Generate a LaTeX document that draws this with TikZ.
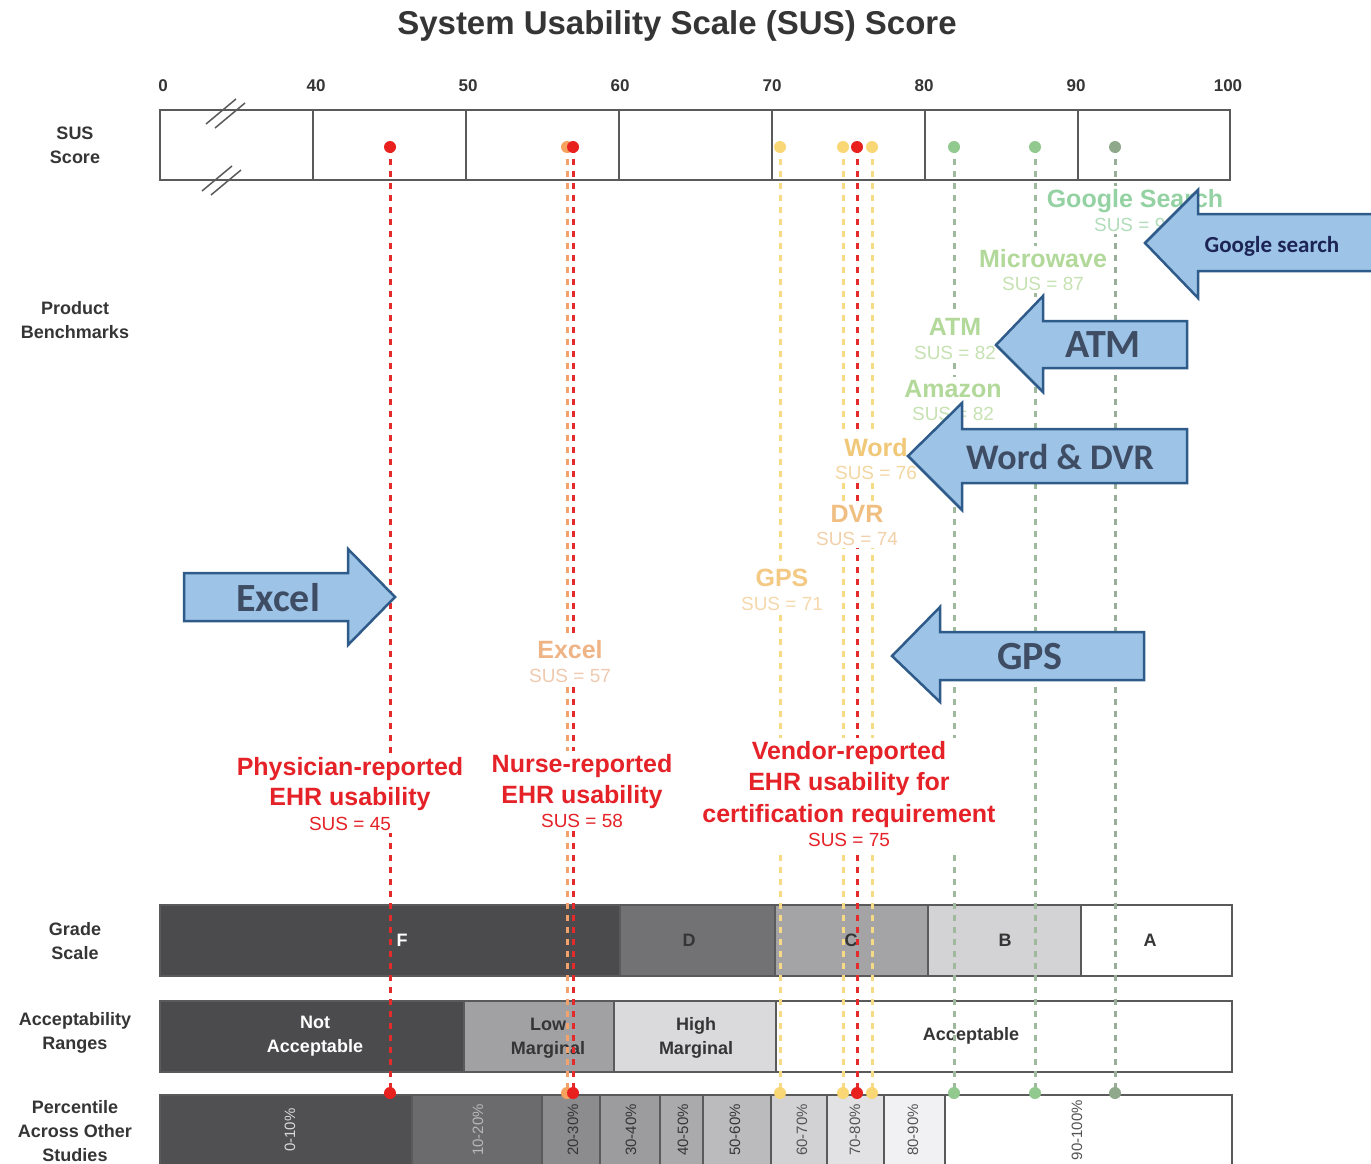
\documentclass[tikz,border=0pt]{standalone}
\usepackage{fontspec}
\setmainfont{Liberation Sans}
\newfontfamily\arrowfont{Carlito}
\usetikzlibrary{fit}
\pgfdeclarelayer{bars}
\pgfdeclarelayer{lines}
\pgfdeclarelayer{mask}
\pgfsetlayers{bars,lines,mask,main}
\definecolor{txtdark}{HTML}{353535}
\definecolor{outl}{HTML}{5A5A5A}
\definecolor{barF}{HTML}{4B4B4D}
\definecolor{barD}{HTML}{727274}
\definecolor{barC}{HTML}{A4A4A6}
\definecolor{barB}{HTML}{D3D3D5}
\definecolor{accLow}{HTML}{A1A1A3}
\definecolor{accHigh}{HTML}{DADADC}
\definecolor{pA}{HTML}{505052}
\definecolor{pB}{HTML}{6B6B6D}
\definecolor{pC}{HTML}{8C8C8E}
\definecolor{pD}{HTML}{9C9C9E}
\definecolor{pE}{HTML}{AAAAAC}
\definecolor{pF}{HTML}{BBBBBD}
\definecolor{pG}{HTML}{D2D2D4}
\definecolor{pH}{HTML}{E2E2E4}
\definecolor{pI}{HTML}{F1F1F3}
\definecolor{redD}{HTML}{E8201E}
\definecolor{redL}{HTML}{E42A2A}
\definecolor{redT}{HTML}{E52228}
\definecolor{excelD}{HTML}{F4A25E}
\definecolor{excelL}{HTML}{F2A36C}
\definecolor{yelD}{HTML}{F8D774}
\definecolor{yelL}{HTML}{F7DA85}
\definecolor{grnD}{HTML}{92C98E}
\definecolor{grnL}{HTML}{9FB99D}
\definecolor{ggD}{HTML}{8FA88B}
\definecolor{ggL}{HTML}{98AE98}
\definecolor{gsT}{HTML}{94D2A4}
\definecolor{gsS}{HTML}{B2DDBB}
\definecolor{mwT}{HTML}{B2D99A}
\definecolor{mwS}{HTML}{C6E2B2}
\definecolor{wdT}{HTML}{F0C878}
\definecolor{wdS}{HTML}{F3D7A2}
\definecolor{dvT}{HTML}{EFBE80}
\definecolor{dvS}{HTML}{F2D1AA}
\definecolor{gpT}{HTML}{F3C984}
\definecolor{gpS}{HTML}{F5D9AC}
\definecolor{exT}{HTML}{EFB486}
\definecolor{exS}{HTML}{F0CAB0}
\definecolor{arrowFill}{HTML}{9DC3E6}
\definecolor{arrowLine}{HTML}{2E5B8A}
\definecolor{arrowTxt}{HTML}{3E4C64}
\definecolor{googleTxt}{HTML}{1C2456}
\begin{document}
\begin{tikzpicture}[x=1pt,y=-1pt,
  every node/.style={inner sep=0pt},
  sidelbl/.style={font=\fontsize{18}{24}\selectfont\bfseries, text=txtdark, align=center},
  scalenum/.style={font=\fontsize{17}{20}\selectfont\bfseries, text=txtdark},
  seg/.style={draw=outl, line width=1.2pt, inner sep=0pt},
  barlbl/.style={font=\fontsize{18}{24}\selectfont\bfseries, align=center, text=txtdark},
  pct/.style={rotate=90, font=\fontsize{15}{18}\selectfont, text=#1},
  dotst/.style={circle, fill=#1, minimum size=12pt, inner sep=0pt},
  susline/.style={draw=#1, line width=3pt, dash pattern=on 6pt off 6pt},
  bname/.style={font=\fontsize{25}{30}\selectfont\bfseries, anchor=base, text=#1},
  bsus/.style={font=\fontsize{19}{23}\selectfont, anchor=base, text=#1},
  rname/.style={font=\fontsize{25}{30}\selectfont\bfseries, anchor=base, text=redT},
  rsus/.style={font=\fontsize{19}{23}\selectfont, anchor=base, text=redT},
  maskbox/.style={fill=white, inner sep=3pt},
  bigarrow/.style={fill=arrowFill, draw=arrowLine, line width=2.5pt, line join=miter},
  arrowlbl/.style={font=\arrowfont\fontsize{40}{44}\selectfont\bfseries, text=arrowTxt}
]
\useasboundingbox (0,0) rectangle (1371,1164);

% ---------- title and axis ----------
\node[font=\fontsize{33}{38}\selectfont\bfseries, text=txtdark, anchor=base] (title) at (677,35) {System Usability Scale (SUS) Score};
\foreach \v/\x in {0/163,40/316,50/468,60/620,70/772,80/924,90/1076,100/1228}
  \node[scalenum] (num\v) at (\x,86) {\v};

% ---------- left labels ----------
\node[sidelbl] (lsus) at (75,145) {SUS\\Score};
\node[sidelbl] (lprod) at (75,320) {Product\\Benchmarks};
\node[sidelbl] (lgrade) at (75,941) {Grade\\Scale};
\node[sidelbl] (lacc) at (75,1033) {Acceptability\\Ranges};
\node[sidelbl] (lpct) at (75,1131) {Percentile\\Across Other\\Studies};

\begin{pgfonlayer}{bars}
% scale box
\node[seg, draw=outl, line width=1.6pt, fit={(160,110) (1230,180)}] (susbox) {};
\foreach \x in {313,466,619,772,925,1078}
  \draw[outl, line width=1.3pt] (\x,110) -- (\x,180);
\draw[outl, line width=1.5pt] (206,124) -- (236,99);
\draw[outl, line width=1.5pt] (215,128) -- (245,103);
\draw[outl, line width=1.5pt] (202,191) -- (232,166);
\draw[outl, line width=1.5pt] (211,195) -- (241,170);

% grade scale
\node[seg, fill=barF, fit={(160,905) (620,976)}] (gF) {};
\node[seg, fill=barD, fit={(620,905) (775,976)}] (gD) {};
\node[seg, fill=barC, fit={(775,905) (928,976)}] (gC) {};
\node[seg, fill=barB, fit={(928,905) (1081,976)}] (gB) {};
\node[seg, fill=white, fit={(1081,905) (1232,976)}] (gA) {};
\node[barlbl, text=white] (tF) at (402,940) {F};
\node[barlbl] (tD) at (689,940) {D};
\node[barlbl] (tC) at (851,940) {C};
\node[barlbl] (tB) at (1005,940) {B};
\node[barlbl] (tA) at (1150,940) {A};

% acceptability ranges
\node[seg, fill=barF, fit={(160,1001) (464,1072)}] (aNot) {};
\node[seg, fill=accLow, fit={(464,1001) (614,1072)}] (aLow) {};
\node[seg, fill=accHigh, fit={(614,1001) (776,1072)}] (aHigh) {};
\node[seg, fill=white, fit={(776,1001) (1232,1072)}] (aAcc) {};
\node[barlbl, text=white] (tNot) at (315,1036) {Not\\Acceptable};
\node[barlbl] (tLow) at (548,1038) {Low\\Marginal};
\node[barlbl] (tHigh) at (696,1038) {High\\Marginal};
\node[barlbl] (tAcc) at (971,1036) {Acceptable};

% percentiles
\node[seg, fill=pA, fit={(160,1095) (412,1180)}] (p0) {};
\node[seg, fill=pB, fit={(412,1095) (542,1180)}] (p1) {};
\node[seg, fill=pC, fit={(542,1095) (600,1180)}] (p2) {};
\node[seg, fill=pD, fit={(600,1095) (660,1180)}] (p3) {};
\node[seg, fill=pE, fit={(660,1095) (703,1180)}] (p4) {};
\node[seg, fill=pF, fit={(703,1095) (771,1180)}] (p5) {};
\node[seg, fill=pG, fit={(771,1095) (827,1180)}] (p6) {};
\node[seg, fill=pH, fit={(827,1095) (884,1180)}] (p7) {};
\node[seg, fill=pI, fit={(884,1095) (945,1180)}] (p8) {};
\node[seg, fill=white, fit={(945,1095) (1232,1180)}] (p9) {};
\node[pct=white!85!black] (tp0) at (290,1130) {0-10\%};
\node[pct=white!72!black] (tp1) at (478,1130) {10-20\%};
\node[pct=txtdark] (tp2) at (573,1130) {20-30\%};
\node[pct=txtdark] (tp3) at (631,1130) {30-40\%};
\node[pct=txtdark] (tp4) at (683,1130) {40-50\%};
\node[pct=txtdark] (tp5) at (735,1130) {50-60\%};
\node[pct=txtdark!85] (tp6) at (802,1130) {60-70\%};
\node[pct=txtdark!85] (tp7) at (855,1130) {70-80\%};
\node[pct=txtdark!85] (tp8) at (913,1130) {80-90\%};
\node[pct=txtdark!85] (tp9) at (1077,1130) {90-100\%};
\end{pgfonlayer}

% ---------- score markers and dashed lines ----------
\foreach \n/\x/\c/\l in {phys/390/redD/redL, excel/567/excelD/excelL, nurse/573/redD/redL, gps/780/yelD/yelL, dvr/843/yelD/yelL, vend/857/redD/redL, word/872/yelD/yelL, atm/954/grnD/grnL, micro/1035/grnD/grnL, goog/1115/ggD/ggL}{
  \node[dotst=\c] (\n-T) at (\x,147) {};
  \node[dotst=\c] (\n-B) at (\x,1093) {};
  \begin{pgfonlayer}{lines}
    \draw[susline=\l] (\n-T.center) -- (\n-B.center);
  \end{pgfonlayer}
}

% ---------- benchmark labels ----------
\node[bname=gsT] (gsN) at (1135,207) {Google Search};
\node[bsus=gsS] (gsV) at (1135,231) {SUS = 93};
\node[bname=mwT] (mwN) at (1043,267) {Microwave};
\node[bsus=mwS] (mwV) at (1043,290) {SUS = 87};
\node[bname=mwT] (atN) at (955,335) {ATM};
\node[bsus=mwS] (atV) at (955,359) {SUS = 82};
\node[bname=mwT] (amN) at (953,397) {Amazon};
\node[bsus=mwS] (amV) at (953,420) {SUS = 82};
\node[bname=wdT] (wdN) at (876,456) {Word};
\node[bsus=wdS] (wdV) at (876,479) {SUS = 76};
\node[bname=dvT] (dvN) at (857,522) {DVR};
\node[bsus=dvS] (dvV) at (857,545) {SUS = 74};
\node[bname=gpT] (gpN) at (782,586) {GPS};
\node[bsus=gpS] (gpV) at (782,610) {SUS = 71};
\node[bname=exT] (exN) at (570,658) {Excel};
\node[bsus=exS] (exV) at (570,682) {SUS = 57};

% ---------- EHR labels ----------
\node[rname] (ph1) at (350,775) {Physician-reported};
\node[rname] (ph2) at (350,805) {EHR usability};
\node[rsus] (ph3) at (350,830) {SUS = 45};
\node[rname] (nu1) at (582,772) {Nurse-reported};
\node[rname] (nu2) at (582,803) {EHR usability};
\node[rsus] (nu3) at (582,827) {SUS = 58};
\node[rname] (ve1) at (849,759) {Vendor-reported};
\node[rname] (ve2) at (849,790) {EHR usability for};
\node[rname] (ve3) at (849,822) {certification requirement};
\node[rsus] (ve4) at (849,846) {SUS = 75};

\begin{pgfonlayer}{mask}
  \node[maskbox, fit=(gsN)(gsV)] (mgs) {};
  \node[maskbox, fit=(mwN)(mwV)] (mmw) {};
  \node[maskbox, fit=(atN)(atV)] (mat) {};
  \node[maskbox, fit=(amN)(amV)] (mam) {};
  \node[maskbox, fit=(wdN)(wdV)] (mwd) {};
  \node[maskbox, fit=(dvN)(dvV)] (mdv) {};
  \node[maskbox, fit=(gpN)(gpV)] (mgp) {};
  \node[maskbox, fit=(exN)(exV)] (mex) {};
  \node[maskbox, fit=(ph1)(ph2)(ph3)] (mph) {};
  \node[maskbox, fit=(nu1)(nu2)(nu3)] (mnu) {};
  \node[maskbox, fit=(ve1)(ve2)(ve3)(ve4)] (mve) {};
\end{pgfonlayer}

% ---------- callout arrows ----------
\draw[bigarrow] (184,573) -- (348,573) -- (348,549) -- (395,597) -- (348,645) -- (348,621) -- (184,621) -- cycle;
\node[arrowlbl] (aExcel) at (278,598) {Excel};

\draw[bigarrow] (1395,214) -- (1198,214) -- (1198,190) -- (1145,243) -- (1198,298) -- (1198,271) -- (1395,271) -- cycle;
\node[font=\arrowfont\fontsize{23}{26}\selectfont\bfseries, text=googleTxt] (aGoogle) at (1272,246) {Google search};

\draw[bigarrow] (1187,321) -- (1043,321) -- (1043,296) -- (996,345) -- (1043,392) -- (1043,368) -- (1187,368) -- cycle;
\node[arrowlbl] (aATM) at (1103,345) {ATM};

\draw[bigarrow] (1187,429) -- (962,429) -- (962,403) -- (908,456) -- (962,510) -- (962,483) -- (1187,483) -- cycle;
\node[arrowlbl, font=\arrowfont\fontsize{36}{40}\selectfont\bfseries] (aWord) at (1060,457) {Word \& DVR};

\draw[bigarrow] (1144,632) -- (940,632) -- (940,607) -- (892,656) -- (940,702) -- (940,680) -- (1144,680) -- cycle;
\node[arrowlbl] (aGPS) at (1030,657) {GPS};
\end{tikzpicture}
\end{document}
